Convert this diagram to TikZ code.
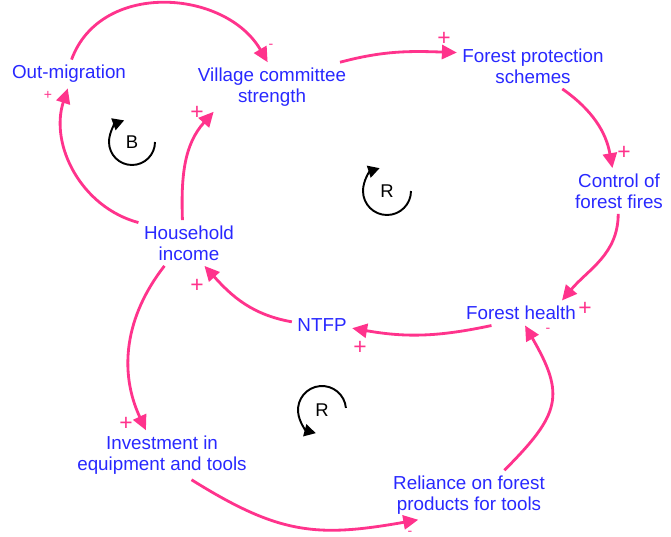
\documentclass[tikz,border=0pt]{standalone}
\usepackage{fontspec}
\setmainfont{Liberation Sans}
\usepackage{xcolor}
\usetikzlibrary{arrows.meta}
\definecolor{cldblue}{RGB}{40,40,255}
\definecolor{cldpink}{RGB}{255,51,140}
\tikzset{>={Triangle[length=8.5pt,width=8pt]}}

\begin{document}
\begin{tikzpicture}
        \tikzstyle{every node}=[inner sep=3pt]
        \tikzstyle{var}=[text=cldblue, align=center, font=\fontsize{10.7}{11.8}\selectfont]
        \tikzstyle{link}=[->, cldpink, line width=1.6pt]
        \tikzstyle{pol}=[text=cldpink, inner sep=0pt, font=\fontsize{13}{13}\selectfont]
        \tikzstyle{polsm}=[text=cldpink, inner sep=0pt, font=\fontsize{8}{8}\selectfont]
        \tikzstyle{loopsign}=[inner sep=0pt, font=\fontsize{10.5}{12}\selectfont]
        \tikzstyle{looparc}=[-{Triangle[length=6.5pt,width=7pt]}, black, line width=1.1pt]
        \useasboundingbox (0,0) rectangle (13.42,-10.74);

        \node[var] (om) at (1.38,-1.48) {Out-migration};
        \node[var] (vc) at (5.44,-1.74) {Village committee\\strength};
        \node[var] (fp) at (10.66,-1.32) {Forest protection\\schemes};
        \node[var] (cf) at (12.38,-3.82) {Control of\\forest fires};
        \node[var] (fh) at (10.42,-6.26) {Forest health};
        \node[var] (ntfp) at (6.44,-6.50) {NTFP};
        \node[var] (hi) at (3.78,-4.86) {Household\\income};
        \node[var] (inv) at (3.24,-9.10) {Investment in\\equipment and tools};
        \node[var] (rel) at (9.38,-9.90) {Reliance on forest\\products for tools};

        \draw[link] (om.80) to[out=70, in=120, looseness=1.1] (vc.100);
        \draw[link] (hi.158) to[out=165, in=-108] (om.-95);
        \draw[link] (hi.106) to[out=92, in=228] (vc.203);
        \draw[link] (vc.20) to[out=15, in=178] (fp.170);
        \draw[link] (fp.-38) to[out=-35, in=100] (cf.106);
        \draw[link] (cf.-92) to[out=-90, in=50] (fh.17);
        \draw[link] (fh.203) to[out=192, in=-10] (ntfp.-6);
        \draw[link] (ntfp.174) to[out=170, in=-48] (hi.-56);
        \draw[link] (hi.-137) to[out=232, in=115] (inv.123);
        \draw[link] (inv.-40) to[out=-32, in=190, looseness=1.15] (rel.206);
        \draw[link] (rel.35) to[out=45, in=-60, looseness=1.4] (fh.-72);

        \node[polsm] (p1) at (5.42,-0.92) {-};
        \node[polsm] (p2) at (0.96,-1.90) {+};
        \node[pol] (p3) at (3.94,-2.26) {+};
        \node[pol] (p4) at (8.88,-0.78) {+};
        \node[pol] (p5) at (12.48,-3.06) {+};
        \node[pol] (p6) at (11.70,-6.18) {+};
        \node[pol] (p7) at (7.20,-6.96) {+};
        \node[pol] (p8) at (3.94,-5.72) {+};
        \node[pol] (p9) at (2.52,-8.48) {+};
        \node[polsm] (p10) at (8.20,-10.66) {-};
        \node[polsm] (p11) at (10.96,-6.60) {-};

        % loop markers
        \node[loopsign] (lb) at (2.64,-2.84) {B};
        \draw[looparc] ([shift={(0:0.46)}]lb.center) arc[start angle=0, end angle=-250, radius=0.46];
        \node[loopsign] (lr1) at (7.74,-3.82) {R};
        \draw[looparc] ([shift={(0:0.48)}]lr1.center) arc[start angle=0, end angle=-252, radius=0.48];
        \node[loopsign] (lr2) at (6.44,-8.20) {R};
        \draw[looparc] ([shift={(5:0.48)}]lr2.center) arc[start angle=5, end angle=255, radius=0.48];
\end{tikzpicture}
\end{document}
